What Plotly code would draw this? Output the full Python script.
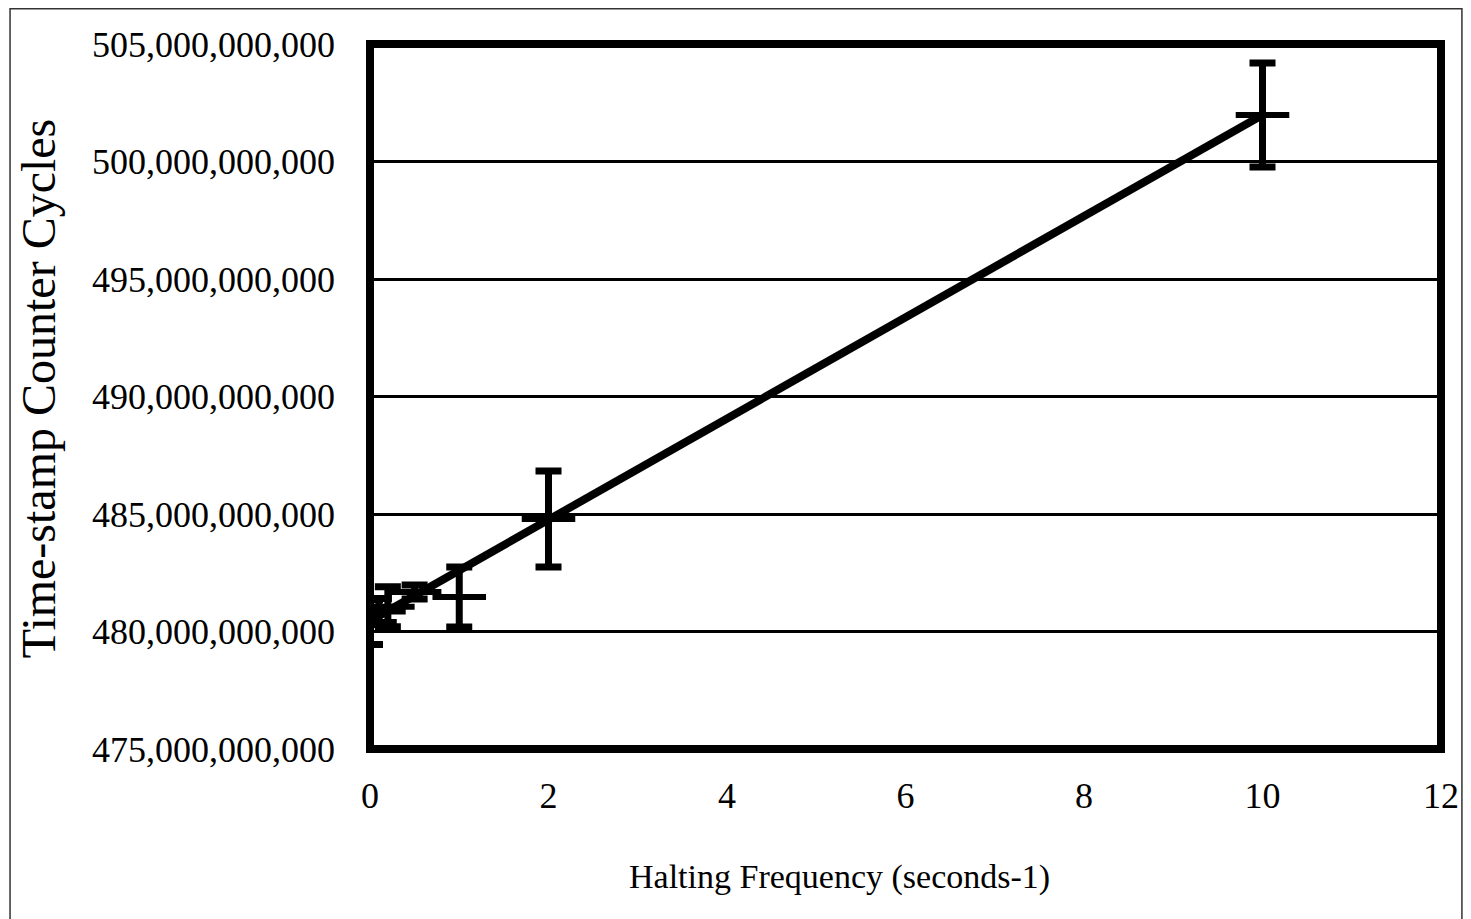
import plotly.graph_objects as go

# Data
halt_freq = [0, 0.1, 0.2, 0.5, 1, 2, 10]
tsc_cycles = [480.40e9, 480.85e9, 481.05e9, 481.68e9, 481.47e9, 484.79e9, 501.98e9]
tsc_err = [0.95e9, 0.55e9, 0.85e9, 0.30e9, 1.28e9, 2.04e9, 2.21e9]
freq_err = [0.3, 0.3, 0.3, 0.3, 0.3, 0.3, 0.3]

trend_x = [0, 10]
trend_y = [480.45e9, 501.98e9]

y_ticks = [475e9, 480e9, 485e9, 490e9, 495e9, 500e9, 505e9]
x_ticks = [0, 2, 4, 6, 8, 10, 12]

FONT = "Liberation Serif"

fig = go.Figure()

fig.add_trace(go.Scatter(
    x=trend_x, y=trend_y, mode="lines",
    line=dict(color="black", width=8), showlegend=False, hoverinfo="skip"))

fig.add_trace(go.Scatter(
    x=halt_freq, y=tsc_cycles, mode="markers",
    marker=dict(size=1, color="black"),
    error_y=dict(type="data", array=tsc_err, visible=True, color="black",
                 thickness=7, width=13),
    error_x=dict(type="data", array=freq_err, visible=True, color="black",
                 thickness=6, width=0),
    showlegend=False))

# page has an 8px body margin, so figure coords = screen coords - 8
OFF = 8
W, H = 1463, 911
L, R, T, B = 370 - OFF, W - (1445 - OFF), 44 - OFF, H - (749 - OFF)
pw = W - L - R
ph = H - T - B

def px_x(p):
    return (p - OFF - L) / pw

def px_y(p):
    return (H - B - (p - OFF)) / ph

fig.update_layout(
    width=W, height=H,
    margin=dict(l=L, r=R, t=T, b=B),
    paper_bgcolor="white", plot_bgcolor="white",
    font=dict(family=FONT, color="black", size=36),
    xaxis=dict(range=[0, 12], tickvals=x_ticks, ticktext=[str(v) for v in x_ticks],
               showgrid=False, zeroline=False, showline=False, ticks="",
               ticklabelstandoff=22, tickfont=dict(size=36, family=FONT)),
    yaxis=dict(range=[475e9, 505e9], tickvals=y_ticks,
               ticktext=[f"{int(v):,}" for v in y_ticks],
               showgrid=True, gridcolor="black", gridwidth=2.5,
               zeroline=False, showline=False, ticks="",
               ticklabelstandoff=34, tickfont=dict(size=36, family=FONT)),
    shapes=[
        dict(type="rect", xref="paper", yref="paper", x0=0, x1=1, y0=0, y1=1,
             line=dict(color="black", width=8), layer="above"),
        dict(type="rect", xref="paper", yref="paper",
             x0=px_x(8.7), x1=px_x(1466), y0=px_y(940), y1=px_y(8.7),
             line=dict(color="#333333", width=1.5), layer="below"),
    ],
    annotations=[
        dict(text="Halting Frequency (seconds-1)", xref="paper", yref="paper",
             x=px_x(841), y=px_y(877), xanchor="center", yanchor="middle",
             showarrow=False, font=dict(size=34, family=FONT)),
        dict(text="Time-stamp Counter Cycles", xref="paper", yref="paper",
             x=px_x(37), y=px_y(388), xanchor="center", yanchor="middle",
             textangle=-90, showarrow=False, font=dict(size=48, family=FONT)),
    ],
)

fig.write_html("out.html")
